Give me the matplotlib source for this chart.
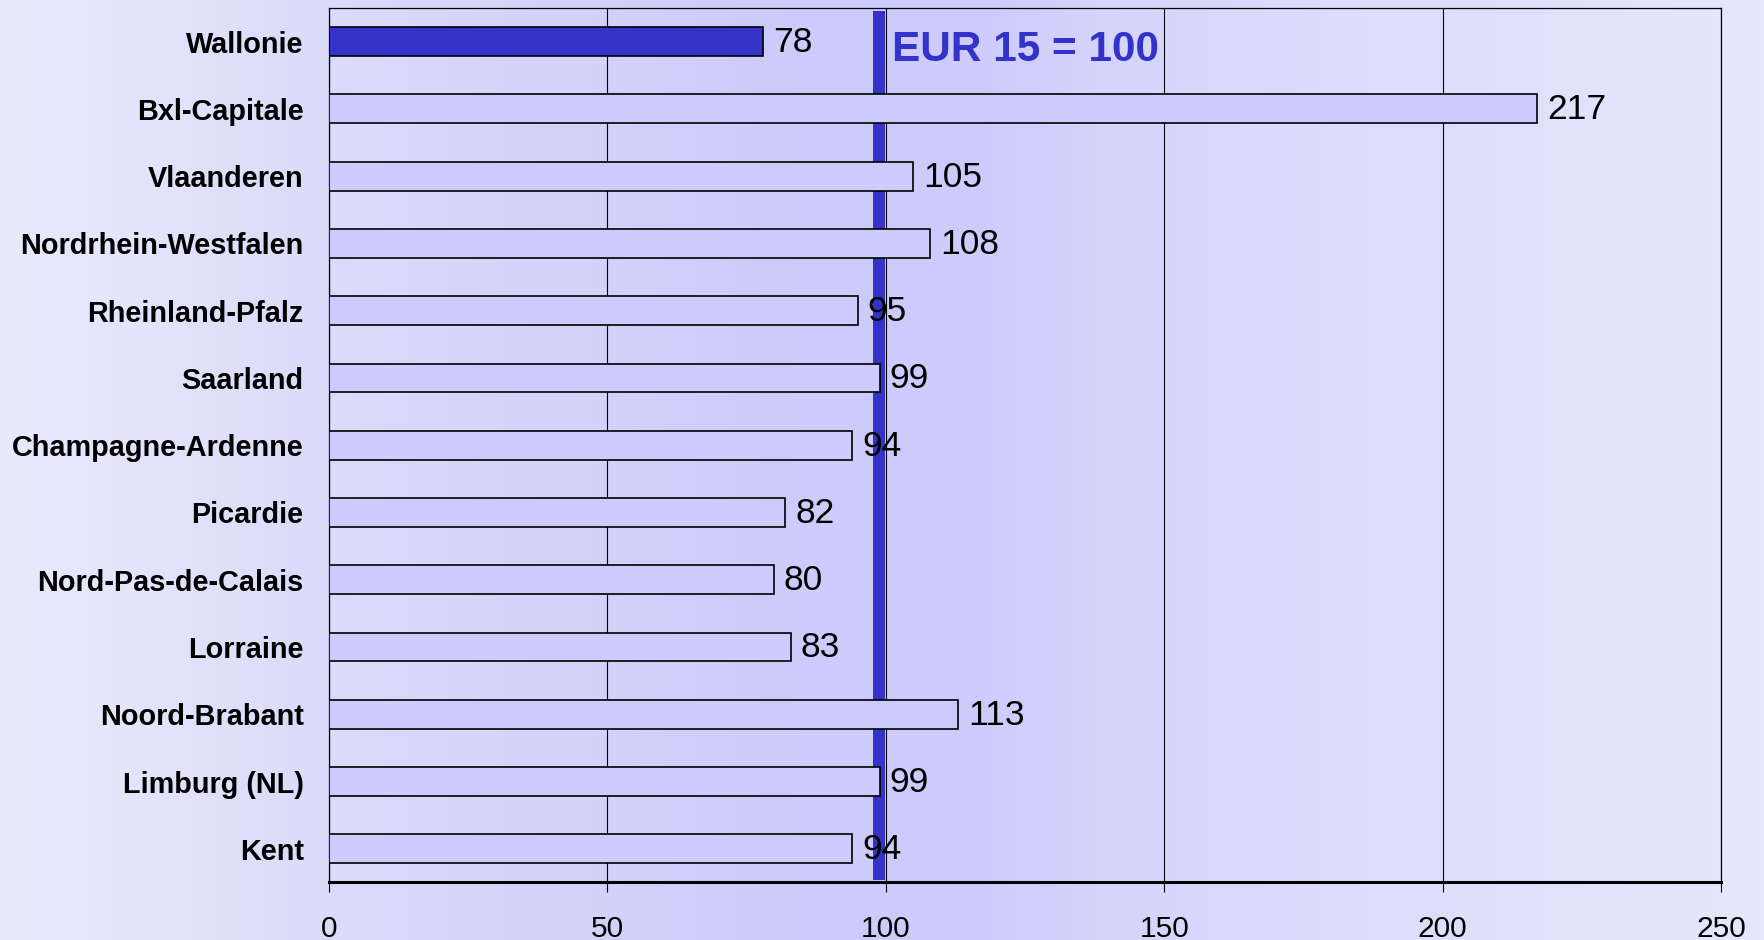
import numpy as np
import matplotlib
matplotlib.use('Agg')
import matplotlib.pyplot as plt
import matplotlib.transforms as mtransforms
from matplotlib.colors import LinearSegmentedColormap

plt.rcParams['font.family'] = ['Liberation Sans', 'DejaVu Sans']

regions = ['Wallonie', 'Bxl-Capitale', 'Vlaanderen', 'Nordrhein-Westfalen',
           'Rheinland-Pfalz', 'Saarland', 'Champagne-Ardenne', 'Picardie',
           'Nord-Pas-de-Calais', 'Lorraine', 'Noord-Brabant', 'Limburg (NL)', 'Kent']
values = [78, 217, 105, 108, 95, 99, 94, 82, 80, 83, 113, 99, 94]
ref_value = 100
ref_label = 'EUR 15 = 100'
xticks = [0, 50, 100, 150, 200, 250]

fig = plt.figure(figsize=(17.64, 9.40), dpi=100)

# background gradient over the whole figure
bg = fig.add_axes([0, 0, 1, 1], zorder=-10)
cmap = LinearSegmentedColormap.from_list('bg', [
    (0.0, '#eaeafd'), (0.17, '#dcdcfa'), (0.30, '#d4d4fa'),
    (0.45, '#ccccfc'), (0.55, '#cccbfc'), (0.62, '#d4d4fc'),
    (0.75, '#dcdcfc'), (0.9, '#e2e2fc'), (1.0, '#e6e6fc')])
bg.imshow(np.linspace(0, 1, 512).reshape(1, -1), aspect='auto', cmap=cmap,
          extent=[0, 1, 0, 1])
bg.axis('off')

ax = fig.add_axes([0.1863, 0.0612, 0.9757 - 0.1863, 0.9915 - 0.0612])
ax.set_facecolor('none')

y = np.arange(len(regions))
colors = ['#3333cc'] + ['#ccccff'] * (len(regions) - 1)
ax.barh(y, values, height=0.43, color=colors, edgecolor='black', linewidth=1.2, zorder=3)

# reference band, just left of the 100 gridline
ax.axvspan(ref_value - 2.2, ref_value - 0.05, ymin=0.003, ymax=0.997,
           color='#3333cc', lw=0, zorder=2)

for i, v in enumerate(values):
    ax.annotate(str(v), (v, i), xytext=(7, -7.5), textcoords='offset points',
                ha='left', va='baseline', fontsize=25.5, color='black', zorder=5)

ax.text(ref_value + 1.2, 0.29, ref_label, fontsize=30.5, fontweight='bold',
        color='#3333cc', ha='left', va='baseline', zorder=5)

ax.set_xlim(0, 250)
ax.set_ylim(len(regions) - 0.5, -0.5)
ax.set_xticks(xticks)
ax.set_xticklabels([str(t) for t in xticks])
ax.set_yticks(y)
ax.set_yticklabels(regions, fontsize=20.8, fontweight='bold')

shift = mtransforms.ScaledTranslation(0, -2.5 / 100, fig.dpi_scale_trans)
for lab in ax.get_yticklabels():
    lab.set_transform(lab.get_transform() + shift)

ax.grid(axis='x', color='black', linewidth=0.8, zorder=1)
ax.set_axisbelow(True)

ax.tick_params(axis='y', length=0, pad=18)
ax.tick_params(axis='x', length=7.5, width=0.8, labelsize=21.5, pad=16, direction='out')

for side in ['top', 'left', 'right']:
    ax.spines[side].set_linewidth(0.9)
ax.spines['bottom'].set_linewidth(2.2)

plt.savefig('out.png', dpi=100)
